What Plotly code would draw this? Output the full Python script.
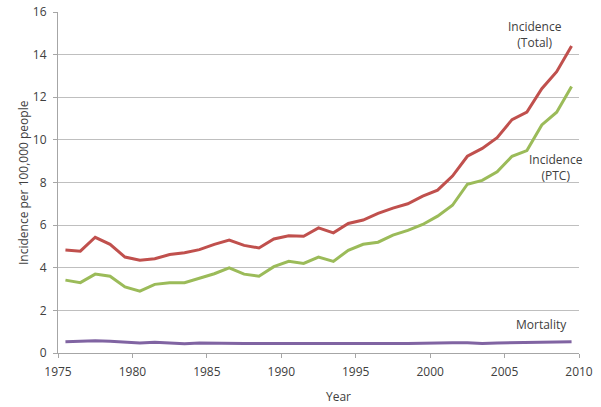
import plotly.graph_objects as go

years = list(range(1975, 2010))
incidence_total = [4.83, 4.78, 5.43, 5.10, 4.50, 4.35, 4.42, 4.62, 4.70, 4.85,
                   5.10, 5.30, 5.05, 4.93, 5.35, 5.50, 5.48, 5.87, 5.64, 6.08,
                   6.24, 6.55, 6.80, 7.00, 7.36, 7.64, 8.30, 9.23, 9.60, 10.10,
                   10.95, 11.30, 12.40, 13.20, 14.40]
incidence_ptc = [3.42, 3.30, 3.70, 3.60, 3.10, 2.90, 3.22, 3.30, 3.30, 3.52,
                 3.72, 4.00, 3.70, 3.60, 4.05, 4.30, 4.20, 4.50, 4.30, 4.82,
                 5.10, 5.20, 5.53, 5.75, 6.03, 6.42, 6.93, 7.92, 8.10, 8.50,
                 9.23, 9.50, 10.70, 11.30, 12.50]
mortality = [0.53, 0.55, 0.57, 0.55, 0.52, 0.47, 0.50, 0.48, 0.43, 0.47,
             0.45, 0.45, 0.44, 0.44, 0.44, 0.44, 0.44, 0.45, 0.44, 0.42,
             0.44, 0.45, 0.45, 0.45, 0.46, 0.48, 0.48, 0.48, 0.44, 0.47,
             0.49, 0.50, 0.51, 0.52, 0.53]
x_ticks = [1975, 1980, 1985, 1990, 1995, 2000, 2005, 2010]
y_ticks = [0, 2, 4, 6, 8, 10, 12, 14, 16]

xs = [y + 0.5 for y in years]
FONT = "Open Sans"
TXT = "#404040"

fig = go.Figure()
fig.add_trace(go.Scatter(x=xs, y=incidence_total, mode="lines",
                         line=dict(color="#C0504D", width=3), name="Incidence (Total)"))
fig.add_trace(go.Scatter(x=xs, y=incidence_ptc, mode="lines",
                         line=dict(color="#9BBB59", width=3), name="Incidence (PTC)"))
fig.add_trace(go.Scatter(x=xs, y=mortality, mode="lines",
                         line=dict(color="#8064A2", width=3), name="Mortality"))

fig.update_layout(
    width=601, height=407,
    margin=dict(l=58, r=22, t=12, b=54),
    paper_bgcolor="white", plot_bgcolor="white",
    showlegend=False,
    font=dict(family=FONT, size=12, color=TXT),
    xaxis=dict(range=[1975, 2010], tickvals=x_ticks, showgrid=False, zeroline=False,
               showline=True, linecolor="#A6A6A6", linewidth=1, automargin=False,
               ticks="outside", ticklen=4, tickcolor="#A6A6A6",
               ticklabelstandoff=4,
               tickfont=dict(size=12, color=TXT)),
    yaxis=dict(range=[0, 16], tickvals=y_ticks, showgrid=True, gridcolor="#BFBFBF",
               gridwidth=1, zeroline=False, showline=True, linecolor="#A6A6A6",
               automargin=False,
               ticks="outside", ticklen=4, tickcolor="#A6A6A6",
               ticklabelstandoff=4,
               tickfont=dict(size=12, color=TXT)),
    annotations=[
        dict(text="Year", x=(338 - 58) / (579 - 58), y=0, xref="paper", yref="paper",
             yshift=-43, yanchor="middle", showarrow=False),
        dict(text="Incidence<br>(Total)", x=2007.04, y=14.95, xref="x", yref="y",
             showarrow=False, align="center"),
        dict(text="Incidence<br>(PTC)", x=2008.45, y=8.72, xref="x", yref="y",
             showarrow=False, align="center"),
        dict(text="Mortality", x=2007.45, y=1.32, xref="x", yref="y",
             showarrow=False, align="center"),
        dict(text="Incidence per 100,000 people", x=0, y=0.5, xref="paper", yref="paper",
             xshift=-45, textangle=-90, showarrow=False),
    ],
)
fig.write_html("out.html", config={"displayModeBar": False},
               post_script="document.body.style.margin='0';")
